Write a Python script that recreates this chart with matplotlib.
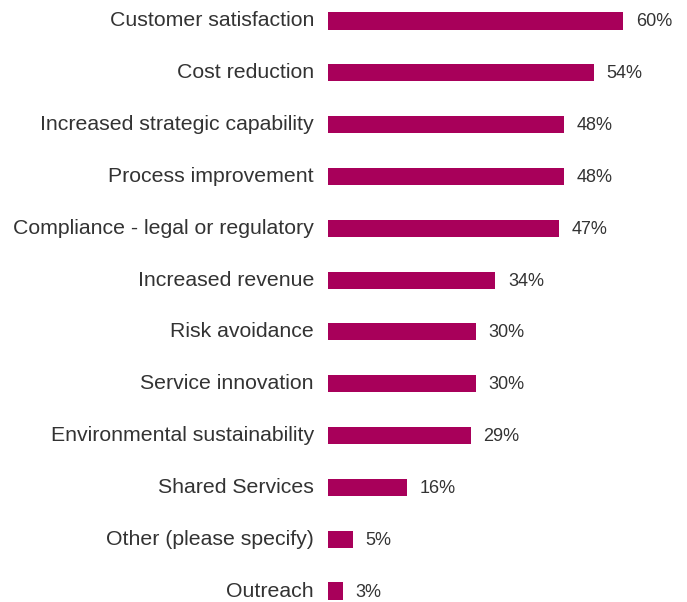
import matplotlib
matplotlib.use("Agg")
import matplotlib.pyplot as plt

categories = [
    "Customer satisfaction",
    "Cost reduction",
    "Increased strategic capability",
    "Process improvement",
    "Compliance - legal or regulatory",
    "Increased revenue",
    "Risk avoidance",
    "Service innovation",
    "Environmental sustainability",
    "Shared Services",
    "Other (please specify)",
    "Outreach",
]
values = [60, 54, 48, 48, 47, 34, 30, 30, 29, 16, 5, 3]

plt.rcParams["font.family"] = ["Liberation Sans", "DejaVu Sans"]

fig = plt.figure(figsize=(6.87, 6.02), dpi=100)
ax = fig.add_axes([328 / 687, 0, 354 / 687, 1])

pos = list(range(len(categories)))
ax.barh(pos, values, height=0.33, color="#A8005A")

for p, v, name in zip(pos, values, categories):
    ax.annotate(f"{v}%", (v, p), xytext=(13, -1), textcoords="offset pixels",
                ha="left", va="center", fontsize=13, color="#333333")
    ax.annotate(name, (0, p), xytext=(-14, 0), textcoords="offset pixels",
                ha="right", va="center", fontsize=15.3, color="#333333",
                annotation_clip=False)

ax.set_xlim(0, 72)
ax.set_ylim(11.212, -0.405)
ax.axis("off")

fig.savefig("out.png", dpi=100)
